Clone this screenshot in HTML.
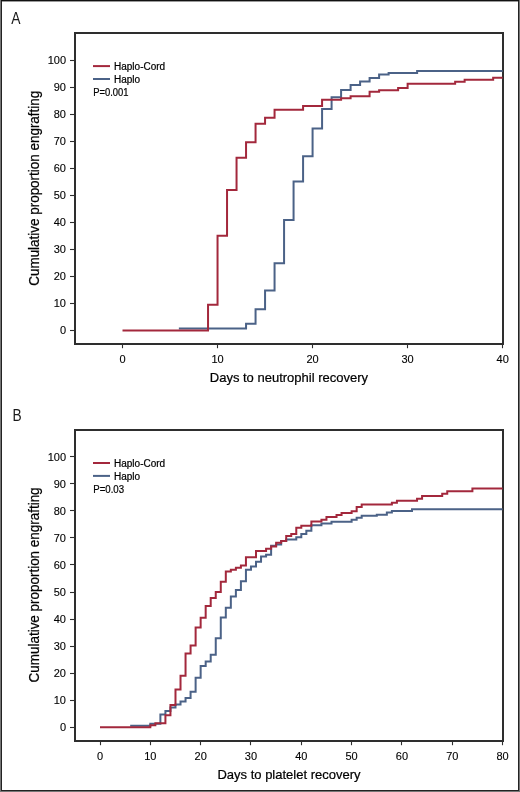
<!DOCTYPE html>
<html><head><meta charset="utf-8"><title>Engraftment curves</title>
<style>
html,body{margin:0;padding:0;background:#fff;}
body{width:520px;height:792px;position:relative;overflow:hidden;font-family:"Liberation Sans",sans-serif;}
.b{position:absolute;}
svg{position:absolute;left:0;top:0;will-change:transform;}
svg text{font-family:"Liberation Sans",sans-serif;fill:#000;stroke:#000;stroke-width:0.22px;}
.tk{font-size:11px;stroke-width:0.12px;}
.lg{font-size:10px;}
.ti{font-size:13px;}
.yt{font-size:14px;}
.pl{font-size:15.6px;stroke-width:0;fill:#1a1a1a;}
</style></head><body>
<div class="b" style="left:0;top:0;width:1px;height:792px;background:#767676"></div>
<div class="b" style="left:519px;top:0;width:1px;height:792px;background:#767676"></div>
<div class="b" style="left:0;top:791px;width:520px;height:1px;background:#767676"></div>
<div class="b" style="left:1px;top:0;width:1px;height:791px;background:#222"></div>
<div class="b" style="left:518px;top:0;width:1px;height:791px;background:#222"></div>
<div class="b" style="left:1px;top:790px;width:518px;height:1px;background:#222"></div>
<div class="b" style="left:1px;top:0;width:518px;height:1px;background:#111"></div>
<div class="b" style="left:2px;top:1px;width:516px;height:1px;background:#9a9a9a"></div>
<svg width="520" height="792" viewBox="0 0 520 792">
<text transform="translate(11.3 24.4) scale(0.89 1)" class="pl">A</text>
<text transform="translate(12.4 421) scale(0.88 1)" class="pl">B</text>
<path d="M75 33 V344 H503 V33 Z" fill="none" stroke="#2e2e2e" stroke-width="2" stroke-linejoin="miter"/>
<line x1="70" y1="330.50" x2="75" y2="330.50" stroke="#2e2e2e" stroke-width="1.1"/>
<text x="66" y="334.40" text-anchor="end" class="tk">0</text>
<line x1="70" y1="303.50" x2="75" y2="303.50" stroke="#2e2e2e" stroke-width="1.1"/>
<text x="66" y="307.37" text-anchor="end" class="tk">10</text>
<line x1="70" y1="276.50" x2="75" y2="276.50" stroke="#2e2e2e" stroke-width="1.1"/>
<text x="66" y="280.34" text-anchor="end" class="tk">20</text>
<line x1="70" y1="249.50" x2="75" y2="249.50" stroke="#2e2e2e" stroke-width="1.1"/>
<text x="66" y="253.31" text-anchor="end" class="tk">30</text>
<line x1="70" y1="222.50" x2="75" y2="222.50" stroke="#2e2e2e" stroke-width="1.1"/>
<text x="66" y="226.28" text-anchor="end" class="tk">40</text>
<line x1="70" y1="195.50" x2="75" y2="195.50" stroke="#2e2e2e" stroke-width="1.1"/>
<text x="66" y="199.25" text-anchor="end" class="tk">50</text>
<line x1="70" y1="168.50" x2="75" y2="168.50" stroke="#2e2e2e" stroke-width="1.1"/>
<text x="66" y="172.22" text-anchor="end" class="tk">60</text>
<line x1="70" y1="141.50" x2="75" y2="141.50" stroke="#2e2e2e" stroke-width="1.1"/>
<text x="66" y="145.19" text-anchor="end" class="tk">70</text>
<line x1="70" y1="114.50" x2="75" y2="114.50" stroke="#2e2e2e" stroke-width="1.1"/>
<text x="66" y="118.16" text-anchor="end" class="tk">80</text>
<line x1="70" y1="87.50" x2="75" y2="87.50" stroke="#2e2e2e" stroke-width="1.1"/>
<text x="66" y="91.13" text-anchor="end" class="tk">90</text>
<line x1="70" y1="60.50" x2="75" y2="60.50" stroke="#2e2e2e" stroke-width="1.1"/>
<text x="66" y="64.10" text-anchor="end" class="tk">100</text>
<line x1="122.50" y1="344" x2="122.50" y2="348.2" stroke="#2e2e2e" stroke-width="1.1"/>
<text x="122.50" y="362.50" text-anchor="middle" class="tk">0</text>
<line x1="217.50" y1="344" x2="217.50" y2="348.2" stroke="#2e2e2e" stroke-width="1.1"/>
<text x="217.54" y="362.50" text-anchor="middle" class="tk">10</text>
<line x1="312.50" y1="344" x2="312.50" y2="348.2" stroke="#2e2e2e" stroke-width="1.1"/>
<text x="312.58" y="362.50" text-anchor="middle" class="tk">20</text>
<line x1="407.50" y1="344" x2="407.50" y2="348.2" stroke="#2e2e2e" stroke-width="1.1"/>
<text x="407.62" y="362.50" text-anchor="middle" class="tk">30</text>
<line x1="502.50" y1="344" x2="502.50" y2="348.2" stroke="#2e2e2e" stroke-width="1.1"/>
<text x="502.66" y="362.50" text-anchor="middle" class="tk">40</text>
<path d="M178.86 328.61 H246.05 V323.74 H255.56 V309.15 H265.06 V290.50 H274.56 V263.21 H284.07 V219.97 H293.57 V181.59 H303.08 V156.19 H312.58 V128.62 H322.08 V109.03 H331.59 V97.27 H341.09 V90.11 H350.60 V85.11 H360.10 V81.60 H369.60 V78.09 H379.11 V74.57 H388.61 V72.95 H417.12 V70.92 H502.66" fill="none" stroke="#4b6287" stroke-width="2" stroke-linejoin="miter"/>
<path d="M122.50 330.50 H208.04 V304.83 H217.54 V235.64 H227.04 V189.97 H236.55 V157.81 H246.05 V142.14 H255.56 V123.76 H265.06 V117.81 H274.56 V109.71 H303.08 V105.92 H322.08 V99.71 H341.09 V98.36 H350.60 V96.19 H369.60 V91.87 H379.11 V90.25 H398.12 V88.09 H407.62 V83.63 H455.14 V81.73 H464.64 V79.71 H493.16 V77.82 H502.66" fill="none" stroke="#a3283c" stroke-width="2" stroke-linejoin="miter"/>
<line x1="93" y1="66.10" x2="110" y2="66.10" stroke="#a3283c" stroke-width="2"/>
<line x1="93" y1="79.00" x2="110" y2="79.00" stroke="#4b6287" stroke-width="2"/>
<text x="114" y="69.90" class="lg">Haplo-Cord</text>
<text x="114" y="82.70" class="lg">Haplo</text>
<text x="93.3" y="95.70" class="lg" textLength="35.2" lengthAdjust="spacingAndGlyphs">P=0.001</text>
<text x="288.9" y="381.5" text-anchor="middle" class="ti">Days to neutrophil recovery</text>
<text transform="translate(38.5 188.25) rotate(-90)" x="0" y="0" text-anchor="middle" class="yt" textLength="195" lengthAdjust="spacingAndGlyphs">Cumulative proportion engrafting</text>
<path d="M75 430 V741 H503 V430 Z" fill="none" stroke="#2e2e2e" stroke-width="2" stroke-linejoin="miter"/>
<line x1="70" y1="727.50" x2="75" y2="727.50" stroke="#2e2e2e" stroke-width="1.1"/>
<text x="66" y="731.20" text-anchor="end" class="tk">0</text>
<line x1="70" y1="700.50" x2="75" y2="700.50" stroke="#2e2e2e" stroke-width="1.1"/>
<text x="66" y="704.15" text-anchor="end" class="tk">10</text>
<line x1="70" y1="673.50" x2="75" y2="673.50" stroke="#2e2e2e" stroke-width="1.1"/>
<text x="66" y="677.10" text-anchor="end" class="tk">20</text>
<line x1="70" y1="646.50" x2="75" y2="646.50" stroke="#2e2e2e" stroke-width="1.1"/>
<text x="66" y="650.05" text-anchor="end" class="tk">30</text>
<line x1="70" y1="619.50" x2="75" y2="619.50" stroke="#2e2e2e" stroke-width="1.1"/>
<text x="66" y="623.00" text-anchor="end" class="tk">40</text>
<line x1="70" y1="592.50" x2="75" y2="592.50" stroke="#2e2e2e" stroke-width="1.1"/>
<text x="66" y="595.95" text-anchor="end" class="tk">50</text>
<line x1="70" y1="564.50" x2="75" y2="564.50" stroke="#2e2e2e" stroke-width="1.1"/>
<text x="66" y="568.90" text-anchor="end" class="tk">60</text>
<line x1="70" y1="537.50" x2="75" y2="537.50" stroke="#2e2e2e" stroke-width="1.1"/>
<text x="66" y="541.85" text-anchor="end" class="tk">70</text>
<line x1="70" y1="510.50" x2="75" y2="510.50" stroke="#2e2e2e" stroke-width="1.1"/>
<text x="66" y="514.80" text-anchor="end" class="tk">80</text>
<line x1="70" y1="483.50" x2="75" y2="483.50" stroke="#2e2e2e" stroke-width="1.1"/>
<text x="66" y="487.75" text-anchor="end" class="tk">90</text>
<line x1="70" y1="456.50" x2="75" y2="456.50" stroke="#2e2e2e" stroke-width="1.1"/>
<text x="66" y="460.70" text-anchor="end" class="tk">100</text>
<line x1="100.50" y1="741" x2="100.50" y2="745.2" stroke="#2e2e2e" stroke-width="1.1"/>
<text x="100.00" y="759.50" text-anchor="middle" class="tk">0</text>
<line x1="150.50" y1="741" x2="150.50" y2="745.2" stroke="#2e2e2e" stroke-width="1.1"/>
<text x="150.32" y="759.50" text-anchor="middle" class="tk">10</text>
<line x1="200.50" y1="741" x2="200.50" y2="745.2" stroke="#2e2e2e" stroke-width="1.1"/>
<text x="200.65" y="759.50" text-anchor="middle" class="tk">20</text>
<line x1="250.50" y1="741" x2="250.50" y2="745.2" stroke="#2e2e2e" stroke-width="1.1"/>
<text x="250.97" y="759.50" text-anchor="middle" class="tk">30</text>
<line x1="301.50" y1="741" x2="301.50" y2="745.2" stroke="#2e2e2e" stroke-width="1.1"/>
<text x="301.30" y="759.50" text-anchor="middle" class="tk">40</text>
<line x1="351.50" y1="741" x2="351.50" y2="745.2" stroke="#2e2e2e" stroke-width="1.1"/>
<text x="351.62" y="759.50" text-anchor="middle" class="tk">50</text>
<line x1="401.50" y1="741" x2="401.50" y2="745.2" stroke="#2e2e2e" stroke-width="1.1"/>
<text x="401.95" y="759.50" text-anchor="middle" class="tk">60</text>
<line x1="452.50" y1="741" x2="452.50" y2="745.2" stroke="#2e2e2e" stroke-width="1.1"/>
<text x="452.27" y="759.50" text-anchor="middle" class="tk">70</text>
<line x1="502.50" y1="741" x2="502.50" y2="745.2" stroke="#2e2e2e" stroke-width="1.1"/>
<text x="502.60" y="759.50" text-anchor="middle" class="tk">80</text>
<path d="M130.19 725.68 H150.32 V723.78 H160.39 V714.59 H165.42 V711.07 H170.45 V707.55 H175.49 V704.58 H180.52 V701.60 H185.55 V698.09 H190.58 V691.86 H195.62 V677.80 H200.65 V665.90 H205.68 V661.57 H210.71 V654.81 H215.75 V638.31 H220.78 V617.48 H225.81 V607.74 H230.84 V596.38 H235.88 V589.89 H240.91 V581.23 H245.94 V569.87 H250.97 V566.62 H256.01 V561.75 H261.04 V556.48 H266.07 V554.86 H271.11 V545.66 H276.14 V544.44 H281.17 V540.93 H286.20 V539.44 H296.27 V537.27 H301.30 V533.89 H306.33 V530.65 H311.37 V525.24 H321.43 V523.61 H331.50 V521.72 H351.62 V519.83 H356.66 V517.66 H361.69 V515.77 H376.79 V514.69 H386.85 V512.52 H391.88 V510.90 H412.01 V509.14 H502.60" fill="none" stroke="#4b6287" stroke-width="2" stroke-linejoin="miter"/>
<path d="M100.00 727.30 H150.32 V725.27 H155.36 V723.24 H165.42 V715.13 H170.45 V705.12 H175.49 V689.43 H180.52 V675.63 H185.55 V653.45 H190.58 V645.61 H195.62 V627.49 H200.65 V617.75 H205.68 V606.12 H210.71 V598.00 H215.75 V592.05 H220.78 V581.77 H225.81 V571.49 H230.84 V569.87 H235.88 V567.70 H240.91 V565.54 H245.94 V557.16 H256.01 V550.93 H266.07 V548.77 H271.11 V546.61 H276.14 V542.82 H281.17 V540.93 H286.20 V535.92 H291.24 V534.03 H296.27 V527.67 H301.30 V525.78 H311.37 V521.45 H321.43 V519.83 H326.46 V517.12 H336.53 V514.96 H341.56 V513.06 H351.62 V511.17 H356.66 V507.11 H361.69 V504.41 H391.88 V502.65 H396.92 V500.76 H417.05 V498.73 H422.08 V496.02 H442.21 V493.72 H447.24 V491.29 H472.40 V488.45 H502.60" fill="none" stroke="#a3283c" stroke-width="2" stroke-linejoin="miter"/>
<line x1="93" y1="463.00" x2="110" y2="463.00" stroke="#a3283c" stroke-width="2"/>
<line x1="93" y1="475.90" x2="110" y2="475.90" stroke="#4b6287" stroke-width="2"/>
<text x="114" y="466.80" class="lg">Haplo-Cord</text>
<text x="114" y="479.60" class="lg">Haplo</text>
<text x="93.3" y="492.60" class="lg" textLength="30.8" lengthAdjust="spacingAndGlyphs">P=0.03</text>
<text x="289" y="778.5" text-anchor="middle" class="ti">Days to platelet recovery</text>
<text transform="translate(38.5 584.9) rotate(-90)" x="0" y="0" text-anchor="middle" class="yt" textLength="195" lengthAdjust="spacingAndGlyphs">Cumulative proportion engrafting</text>
</svg>
</body></html>
